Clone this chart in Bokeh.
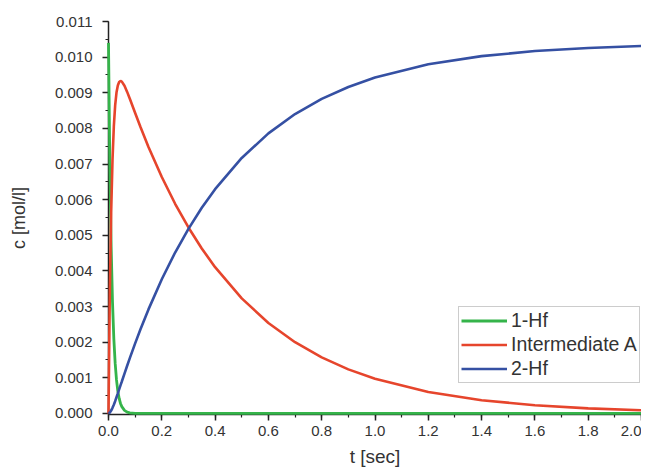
from bokeh.plotting import figure
from bokeh.models import Range1d, SingleIntervalTicker, NumeralTickFormatter, Legend, LegendItem
from bokeh.embed import file_html
from bokeh.resources import INLINE

t = [0.0, 0.005, 0.01, 0.015, 0.02, 0.025, 0.03, 0.035, 0.04, 0.045, 0.05, 0.06, 0.07, 0.08,
     0.1, 0.12, 0.15, 0.2, 0.25, 0.3, 0.35, 0.4, 0.5, 0.6, 0.7, 0.8, 0.9, 1.0, 1.2, 1.4, 1.6, 1.8, 2.0]
hf1 = [0.01040, 0.00697, 0.00467, 0.00313, 0.00210, 0.00141, 0.00094, 0.00063, 0.00042, 0.00028,
       0.00019, 0.000085, 0.000038, 0.000017, 0.0, 0.0, 0.0, 0.0, 0.0, 0.0, 0.0, 0.0, 0.0, 0.0,
       0.0, 0.0, 0.0, 0.0, 0.0, 0.0, 0.0, 0.0, 0.0]
inter_a = [0.0, 0.003407, 0.005650, 0.007113, 0.008055, 0.008647, 0.009005, 0.009206, 0.009303,
           0.009332, 0.009313, 0.009196, 0.009024, 0.008831, 0.008434, 0.008039, 0.007480, 0.006635,
           0.005884, 0.005219, 0.004629, 0.004105, 0.003229, 0.002540, 0.001998, 0.001572, 0.001237,
           0.000973, 0.000602, 0.000372, 0.000230, 0.000143, 0.000088]
hf2 = [0.0, 0.000023, 0.00008, 0.000157, 0.000245, 0.000343, 0.000455, 0.000564, 0.000677, 0.000788,
       0.000897, 0.001119, 0.001338, 0.001552, 0.001966, 0.002361, 0.00292, 0.003765, 0.004516,
       0.005181, 0.005771, 0.006295, 0.007171, 0.00786, 0.008402, 0.008828, 0.009163, 0.009427,
       0.009798, 0.010028, 0.01017, 0.010257, 0.010312]
series_names = ["1-Hf", "Intermediate A", "2-Hf"]

TXT = "#333333"
p = figure(frame_width=533, frame_height=393, output_backend="svg", toolbar_location=None,
           x_range=Range1d(0, 2.0), y_range=Range1d(-0.00003, 0.011),
           min_border_left=108, min_border_right=0, min_border_top=21, min_border_bottom=0)
p.outline_line_color = None
p.grid.visible = False
p.background_fill_color = "white"

r1 = p.line(t, hf1, line_color="#35b44a", line_width=2.8, level="overlay")
r2 = p.line(t, inter_a, line_color="#e6452c", line_width=2.6, level="overlay")
r3 = p.line(t, hf2, line_color="#3550a3", line_width=2.6, level="overlay")

for ax in (p.xaxis[0], p.yaxis[0]):
    ax.axis_line_color = "#222222"
    ax.axis_line_width = 1.5
    ax.major_tick_line_color = "#222222"
    ax.minor_tick_line_color = "#222222"
    ax.major_tick_line_width = 1.5
    ax.minor_tick_line_width = 1.2
    ax.major_tick_out = 6
    ax.major_tick_in = 0
    ax.minor_tick_out = 3
    ax.minor_tick_in = 0
    ax.major_label_text_font = "Liberation Sans"
    ax.major_label_text_font_size = "15px"
    ax.major_label_text_color = TXT
    ax.axis_label_text_font = "Liberation Sans"
    ax.axis_label_text_font_style = "normal"
    ax.axis_label_text_color = TXT

p.xaxis[0].ticker = SingleIntervalTicker(interval=0.2, num_minor_ticks=2)
p.xaxis[0].formatter = NumeralTickFormatter(format="0.0")
p.xaxis[0].axis_label = "t [sec]"
p.xaxis[0].axis_label_text_font_size = "19px"
p.xaxis[0].major_label_standoff = 5
p.xaxis[0].axis_label_standoff = 7

p.yaxis[0].ticker = SingleIntervalTicker(interval=0.001, num_minor_ticks=2)
p.yaxis[0].formatter = NumeralTickFormatter(format="0.000")
p.yaxis[0].axis_label = "c [mol/l]"
p.yaxis[0].axis_label_text_font_size = "18px"
p.yaxis[0].major_label_standoff = 10
p.yaxis[0].axis_label_standoff = 23

legend = Legend(items=[LegendItem(label=n, renderers=[r]) for n, r in zip(series_names, [r1, r2, r3])],
                location=(350, 31), orientation="vertical")
legend.label_text_font = "Liberation Sans"
legend.label_text_font_size = "19.5px"
legend.label_text_color = TXT
legend.glyph_width = 46
legend.glyph_height = 21
legend.label_height = 21
legend.label_standoff = 4
legend.spacing = 1
legend.padding = 2
legend.margin = 0
legend.border_line_color = "#999999"
legend.border_line_width = 1.5
legend.background_fill_alpha = 1.0
p.add_layout(legend, "center")

open("out.html", "w").write(file_html(p, INLINE))
